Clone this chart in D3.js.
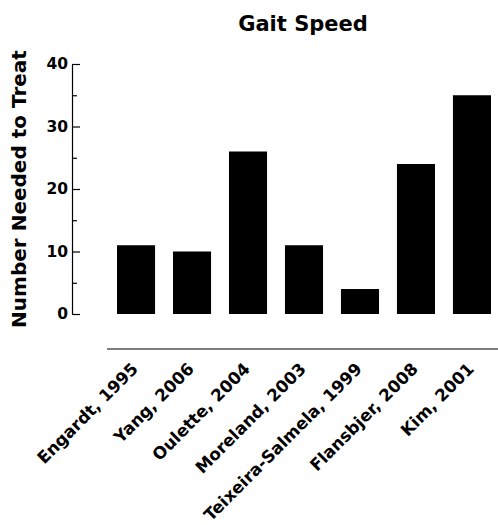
<!DOCTYPE html>
<html>
<head>
<meta charset="utf-8">
<script src="https://cdn.jsdelivr.net/npm/d3@7"></script>
<style>
  body { margin: 0; background: #fff; }
  svg { display: block; }
</style>
</head>
<body>
<div id="chart"></div>
<script>
// gait speed NNT bars, one per study

const studies = ["Engardt, 1995", "Yang, 2006", "Oulette, 2004", "Moreland, 2003",
  "Teixeira-Salmela, 1999", "Flansbjer, 2008", "Kim, 2001"];
const nnt = [11, 10, 26, 11, 4, 24, 35];
const majorTicks = [0, 10, 20, 30, 40];
const minorTicks = [5, 15, 25, 35];

const W = 498, H = 525;
const heavy = "'Gill Sans', 'DejaVu Sans', sans-serif";
const verd = "Verdana, 'DejaVu Sans', sans-serif";

const svg = d3.select("#chart").append("svg")
  .attr("width", W)
  .attr("height", H);

const x = d3.scaleBand()
  .domain(studies)
  .range([117, 491])
  .paddingInner(0.32)
  .paddingOuter(0);

const y = d3.scaleLinear()
  .domain([0, 40])
  .range([314, 64]);

// title
svg.append("text")
  .attr("x", 303)
  .attr("y", 31)
  .attr("text-anchor", "middle")
  .attr("font-family", heavy)
  .attr("font-weight", "bold")
  .attr("font-size", 21)
  .text("Gait Speed");

// y axis, ticks point inward
const yAxis = svg.append("g")
  .attr("transform", "translate(72,0)")
  .call(d3.axisLeft(y).tickValues(majorTicks).tickSize(-8).tickSizeOuter(0).tickPadding(4));

yAxis.selectAll("text")
  .attr("font-family", verd)
  .attr("font-weight", "bold")
  .attr("font-size", 15.5)
  .attr("fill", "#000");
yAxis.selectAll("line, path").attr("stroke", "#000").attr("stroke-width", 1.2);

svg.append("g")
  .attr("transform", "translate(72,0)")
  .call(d3.axisLeft(y).tickValues(minorTicks).tickSize(-5).tickSizeOuter(0).tickFormat(""))
  .call(g => g.select(".domain").remove())
  .selectAll("line").attr("stroke", "#000").attr("stroke-width", 1.2);

svg.append("text")
  .attr("transform", `translate(26,189) rotate(-90)`)
  .attr("text-anchor", "middle")
  .attr("font-family", verd)
  .attr("font-weight", "bold")
  .attr("font-size", 20)
  .text("Number Needed to Treat");

// bars
svg.selectAll("rect.bar")
  .data(studies)
  .join("rect")
  .attr("class", "bar")
  .attr("x", d => x(d))
  .attr("y", (d, i) => y(nnt[i]))
  .attr("width", x.bandwidth())
  .attr("height", (d, i) => y(0) - y(nnt[i]))
  .attr("fill", "#000");

// separate category baseline below bars
svg.append("line")
  .attr("x1", 107).attr("x2", 498)
  .attr("y1", 349).attr("y2", 349)
  .attr("stroke", "#000")
  .attr("stroke-width", 1.2);

svg.selectAll("text.cat")
  .data(studies)
  .join("text")
  .attr("class", "cat")
  .attr("transform", d => `translate(${x(d) + x.bandwidth() / 2 + 3},370) rotate(-45)`)
  .attr("text-anchor", "end")
  .attr("font-family", heavy)
  .attr("font-weight", "bold")
  .attr("font-size", 16.8)
  .text(d => d);
</script>
</body>
</html>
